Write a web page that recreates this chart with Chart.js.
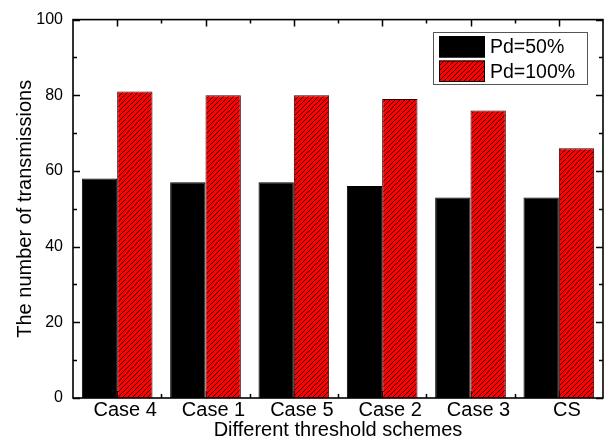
<!DOCTYPE html>
<html>
<head>
<meta charset="utf-8">
<script src="https://cdn.jsdelivr.net/npm/chart.js@4.4.0/dist/chart.umd.min.js"></script>
<style>
  html, body { margin: 0; padding: 0; background: #fff; }
  #wrap { width: 613px; height: 440px; }
</style>
</head>
<body>
<div id="wrap"><canvas id="c" width="613" height="440"></canvas></div>
<script>
// Transmission counts per threshold scheme
const categories = ['Case 4', 'Case 1', 'Case 5', 'Case 2', 'Case 3', 'CS'];
const pd50 = [58, 57, 57, 56, 53, 53];
const pd100 = [81, 80, 80, 79, 76, 66];
const yTicks = [0, 20, 40, 60, 80, 100];
const yMinorTicks = [10, 30, 50, 70, 90];
const seriesNames = ['Pd=50%', 'Pd=100%'];

const FONT = 'Liberation Sans, Arial, sans-serif';
const canvas = document.getElementById('c');
const ctx = canvas.getContext('2d');

// red fill with thin black "/" hatching
function makeHatch(c) {
  const s = 5;
  const t = document.createElement('canvas');
  t.width = s; t.height = s;
  const g = t.getContext('2d');
  g.fillStyle = '#ff0000';
  g.fillRect(0, 0, s, s);
  g.strokeStyle = 'rgba(0,0,0,0.9)';
  g.lineWidth = 0.9;
  g.beginPath();
  g.moveTo(-1, s + 1); g.lineTo(s + 1, -1);
  g.moveTo(-1, 1); g.lineTo(1, -1);
  g.moveTo(s - 1, s + 1); g.lineTo(s + 1, s - 1);
  g.stroke();
  return c.createPattern(t, 'repeat');
}
const hatch = makeHatch(ctx);

// inward tick marks on all four sides (drawn under the bars)
const tickMarks = {
  id: 'tickMarks',
  beforeDatasetsDraw(chart) {
    const { ctx, chartArea: a, scales: { x, y } } = chart;
    const major = 7, minor = 4;
    ctx.save();
    ctx.strokeStyle = '#000';
    ctx.lineWidth = 1.5;
    ctx.beginPath();
    categories.forEach((_, i) => {
      const px = Math.round(x.getPixelForValue(i)) + 0.5;
      ctx.moveTo(px, a.top); ctx.lineTo(px, a.top + major);
      ctx.moveTo(px, a.bottom); ctx.lineTo(px, a.bottom - major);
    });
    for (let i = 0; i < categories.length - 1; i++) {
      const px = Math.round(x.getPixelForValue(i + 0.5)) + 0.5;
      ctx.moveTo(px, a.top); ctx.lineTo(px, a.top + minor);
      ctx.moveTo(px, a.bottom); ctx.lineTo(px, a.bottom - minor);
    }
    yTicks.forEach(v => {
      const py = Math.round(y.getPixelForValue(v)) + 0.5;
      ctx.moveTo(a.left, py); ctx.lineTo(a.left + major, py);
      ctx.moveTo(a.right, py); ctx.lineTo(a.right - major, py);
    });
    yMinorTicks.forEach(v => {
      const py = Math.round(y.getPixelForValue(v)) + 0.5;
      ctx.moveTo(a.left, py); ctx.lineTo(a.left + minor, py);
      ctx.moveTo(a.right, py); ctx.lineTo(a.right - minor, py);
    });
    ctx.stroke();
    ctx.restore();
  }
};

// axis frame over the bars, then the boxed legend
const frameAndLegend = {
  id: 'frameAndLegend',
  afterDatasetsDraw(chart) {
    const { ctx, chartArea: a } = chart;
    ctx.save();
    ctx.strokeStyle = '#000';
    ctx.lineWidth = 1.6;
    ctx.strokeRect(a.left, a.top, a.right - a.left, a.bottom - a.top);

    // legend box
    const bx = 433.5, by = 32.5, bw = 154, bh = 52;
    ctx.fillStyle = '#fff';
    ctx.fillRect(bx, by, bw, bh);
    ctx.strokeStyle = '#555';
    ctx.lineWidth = 1;
    ctx.strokeRect(bx, by, bw, bh);

    const rows = [36, 60.5];
    chart.data.datasets.forEach((ds, i) => {
      const sx = 439, sy = rows[i], sw = 46, sh = 21.5;
      ctx.fillStyle = ds.backgroundColor;
      ctx.fillRect(sx, sy, sw, sh);
      ctx.strokeStyle = '#000';
      ctx.lineWidth = 1;
      ctx.strokeRect(sx + 0.5, sy + 0.5, sw - 1, sh - 1);
      ctx.fillStyle = '#000';
      ctx.font = '19.5px ' + FONT;
      ctx.textBaseline = 'middle';
      ctx.textAlign = 'left';
      ctx.fillText(ds.label, 490, sy + sh / 2 + 1);
    });
    ctx.restore();
  }
};

new Chart(ctx, {
  type: 'bar',
  data: {
    labels: categories,
    datasets: [
      {
        label: seriesNames[0],
        data: pd50,
        backgroundColor: '#000000',
        borderColor: '#000000',
        borderWidth: 1
      },
      {
        label: seriesNames[1],
        data: pd100,
        backgroundColor: hatch,
        borderColor: '#300000',
        borderWidth: 1
      }
    ]
  },
  options: {
    responsive: false,
    animation: false,
    events: [],
    layout: { padding: { left: 0, right: 10, top: 19, bottom: 0 } },
    datasets: { bar: { categoryPercentage: 0.8, barPercentage: 1.0 } },
    plugins: { legend: { display: false }, tooltip: { enabled: false } },
    scales: {
      x: {
        grid: { display: false, drawTicks: false },
        border: { display: false },
        ticks: {
          color: '#000',
          font: { family: FONT, size: 20 },
          padding: 0,
          labelOffset: 8,
          maxRotation: 0,
          autoSkip: false
        },
        title: {
          display: true,
          text: 'Different threshold schemes',
          color: '#000',
          font: { family: FONT, size: 20, lineHeight: 1 },
          padding: { top: 0, bottom: 0 }
        },
        afterFit(s) { s.height = 42; }
      },
      y: {
        min: 0,
        max: 100,
        grid: { display: false, drawTicks: false },
        border: { display: false },
        afterBuildTicks(s) { s.ticks = yTicks.map(v => ({ value: v })); },
        ticks: {
          color: '#000',
          font: { family: FONT, size: 16 },
          padding: 10
        },
        title: {
          display: true,
          text: 'The number of transmissions',
          color: '#000',
          font: { family: FONT, size: 20, lineHeight: 1.2 },
          padding: { top: 13, bottom: 0 }
        },
        afterFit(s) { s.width = 73; }
      }
    }
  },
  plugins: [tickMarks, frameAndLegend]
});
</script>
</body>
</html>
